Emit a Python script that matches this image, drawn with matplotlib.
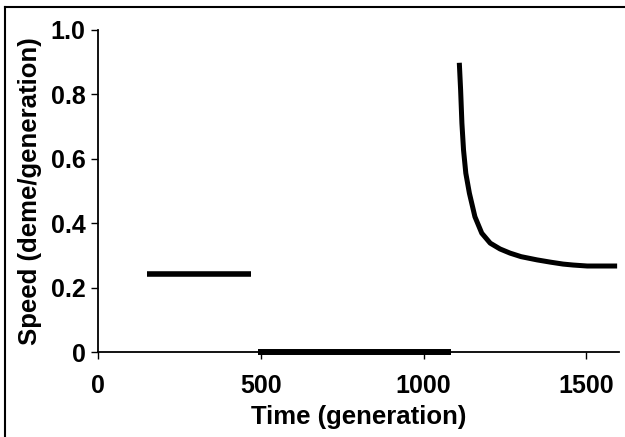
import numpy as np
import matplotlib.pyplot as plt
from matplotlib.lines import Line2D

plt.rcParams['font.family'] = ['Liberation Sans', 'DejaVu Sans']
plt.rcParams['font.weight'] = 'bold'

# first phase: constant speed
t1 = [150, 470]
v1 = [0.242, 0.242]

# second phase: stalled
t2 = [490, 1085]
v2 = [0.0, 0.0]

# third phase: decaying speed
t3 = [1110, 1114, 1118, 1123, 1130, 1141, 1158, 1179, 1205, 1235, 1266,
      1300, 1349, 1390, 1429, 1460, 1503, 1550, 1595]
v3 = [0.898, 0.814, 0.710, 0.627, 0.555, 0.493, 0.420, 0.369, 0.338, 0.320, 0.307,
      0.296, 0.286, 0.279, 0.273, 0.270, 0.267, 0.267, 0.267]

xticks = [0, 500, 1000, 1500]
yticks = [0, 0.2, 0.4, 0.6, 0.8, 1.0]
ylabels = ["0", "0.2", "0.4", "0.6", "0.8", "1.0"]

fig = plt.figure(figsize=(6.25, 4.37), dpi=100)
ax = fig.add_axes([0.157, 0.1945, 0.833, 0.737])

ax.plot(t1, v1, color="black", lw=4.0, solid_capstyle="butt")
ax.plot(t2, v2, color="black", lw=4.3, solid_capstyle="butt", clip_on=False, zorder=5)
ax.plot(t3, v3, color="black", lw=3.6, solid_capstyle="butt")

ax.set_xlim(0, 1600)
ax.set_ylim(0, 1.0)
ax.set_xticks(xticks)
ax.set_yticks(yticks)
ax.set_yticklabels(ylabels)
ax.tick_params(labelsize=18, length=5, width=1, direction="out")
ax.tick_params(axis="x", pad=11)
ax.tick_params(axis="y", pad=4)
ax.spines["top"].set_visible(False)
ax.spines["right"].set_visible(False)
ax.spines["left"].set_linewidth(1.3)
ax.spines["bottom"].set_linewidth(1.3)

ax.set_xlabel("Time (generation)", fontsize=18.5, fontweight="bold", labelpad=5)
ax.set_ylabel("Speed (deme/generation)", fontsize=18.5, fontweight="bold", labelpad=6)

# frame around the figure: only left and top edges fall inside the image
x0 = 5 / 625
y0 = 1 - 7 / 437
fig.lines.append(Line2D([x0, x0], [0, y0], transform=fig.transFigure, color="black", lw=1.5))
fig.lines.append(Line2D([x0, 1], [y0, y0], transform=fig.transFigure, color="black", lw=1.5))

fig.savefig("out.png", dpi=100)
